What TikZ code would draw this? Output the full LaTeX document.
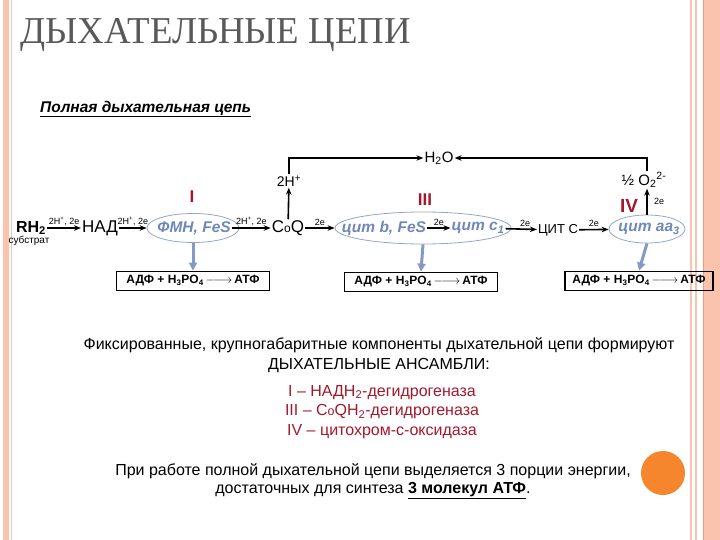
\documentclass[tikz,border=0pt]{standalone}
\usepackage{fontspec}
\setmainfont{Liberation Sans}
\newfontfamily\titlefont{Liberation Serif}
\usetikzlibrary{arrows.meta,shapes.geometric,positioning}

\definecolor{framesalmon}{HTML}{F9C3AD}
\definecolor{frameline}{HTML}{F29A7C}
\definecolor{enzred}{HTML}{A3182B}
\definecolor{cytblue}{HTML}{6F87B9}
\definecolor{ellline}{HTML}{93A6CA}
\definecolor{titlegray}{HTML}{595959}
\definecolor{dotorange}{HTML}{F5862E}

\newcommand{\fsz}[1]{\fontsize{#1}{#1}\selectfont}
\newcommand{\longarr}{$\relbar\joinrel\longrightarrow$}

\tikzset{
  flow/.style={-{Stealth[length=7pt,width=5.5pt]},line width=1.6pt},
  carrier/.style={font=\fsz{17},inner sep=1pt},
  lbl/.style={font=\fsz{9},inner sep=1pt,above=1pt},
  complexno/.style={font=\bfseries\fsz{17},text=enzred,inner sep=1pt},
  enzyme/.style={ellipse,draw=ellline,line width=0.8pt,inner sep=0pt},
  cyt/.style={font=\bfseries\itshape\fsz{15.5},text=cytblue,inner sep=1pt},
  downflow/.style={-{Triangle[length=8pt,width=8pt]},line width=3pt,cytblue!85},
  atpbox/.style={draw,line width=1.8pt,minimum width=153pt,minimum height=19pt,inner sep=0pt,font=\bfseries\fsz{12}},
  bodytext/.style={font=\fsz{16},align=center,inner sep=0pt}
}

\begin{document}
\begin{tikzpicture}[x=1pt,y=-1pt]
\useasboundingbox (0,0) rectangle (720,540);
% slide frame
\fill[framesalmon] (3,0) rectangle (9,540);
\draw[framesalmon,line width=1pt] (11.5,0) -- (11.5,540);
\draw[framesalmon,line width=1.5pt] (691,0) -- (691,540);
\draw[framesalmon,line width=1.5pt] (696,0) -- (696,540);
\fill[framesalmon] (703,0) rectangle (720,540);
\draw[frameline,line width=1pt] (703,0) -- (703,540);

\node[anchor=west,text=titlegray,font=\titlefont\fsz{38},inner sep=0pt,xscale=0.97] (title) at (20,35) {ДЫХАТЕЛЬНЫЕ ЦЕПИ};
\node[anchor=west,font=\bfseries\itshape\fsz{15.5},inner sep=0pt] (subtitle) at (40,109) {\underline{Полная дыхательная цепь}};

% carriers
\node[carrier,font=\bfseries\fsz{16}] (rh) at (31,228) {RH\textsubscript{2}};
\node[font=\fsz{10},inner sep=0pt] (substr) at (29,241) {субстрат};
\node[carrier] (nad) at (100,228) {НАД};
\node[enzyme,minimum width=92pt,minimum height=29pt] (fmn) at (193,228) {};
\node[cyt] (fmntext) at (194,228) {ФМН, FeS};
\node[complexno] (cI) at (192,197) {I};
\node[carrier] (coq) at (288,228) {C{\fsz{12}o}Q};
\node[font=\fsz{14},inner sep=1pt] (hplus) at (289,181) {2H\textsuperscript{+}};
\node[font=\fsz{15},inner sep=1pt] (h2o) at (439,158) {H\textsubscript{2}O};
\node[enzyme,minimum width=176pt,minimum height=32pt] (cIII) at (423,228) {};
\node[cyt] (cytb) at (384,228) {цит b, FeS};
\node[cyt] (cytc1) at (478,228) {цит c\textsubscript{1}};
\node[complexno] (cIIIno) at (425,200) {III};
\node[font=\fsz{13},inner sep=1pt] (cytc) at (558,230) {ЦИТ С};
\node[enzyme,minimum width=76pt,minimum height=28pt] (aa3) at (647,229) {};
\node[cyt] (aa3text) at (649,229) {цит аа\textsubscript{3}};
\node[complexno,font=\bfseries\fsz{19}] (cIVno) at (629,206) {IV};
\node[font=\fsz{15},inner sep=1pt] (o2) at (644,180) {½ O\textsubscript{2}\textsuperscript{2-}};

% electron transport
\draw[flow] (rh) -- node[lbl]{2H\textsuperscript{+}, 2e} (nad);
\draw[flow] (nad) -- node[lbl]{2H\textsuperscript{+}, 2e} (fmn);
\draw[flow] (fmntext) -- node[lbl]{2H\textsuperscript{+}, 2e} (coq);
\draw[flow] (coq) -- node[lbl]{2e} (cIII);
\draw[flow] (cytb) -- node[lbl]{2e} (cytc1);
\draw[flow] (cytc1) -- node[lbl,xshift=4pt]{2e} (cytc);
\draw[flow] (cytc) -- node[lbl]{2e} (aa3);
\draw[flow] (coq) -- (hplus);
\draw[flow] (hplus) |- (h2o);
\draw[flow] (aa3.north) -- node[right=3pt,font=\fsz{9}]{2e} (aa3.north |- o2.south);
\draw[flow] (aa3.north |- o2.north) |- (h2o);

% phosphorylation
\node[atpbox] (atp1) at (193,281) {АДФ + H\textsubscript{3}PO\textsubscript{4}\,\longarr\,АТФ};
\node[atpbox] (atp2) at (421,282) {АДФ + H\textsubscript{3}PO\textsubscript{4}\,\longarr\,АТФ};
\node[atpbox,minimum width=148pt] (atp3) at (639,281) {АДФ + H\textsubscript{3}PO\textsubscript{4}\,\longarr\,АТФ};
\draw[downflow] (fmn.south) -- (atp1.north);
\draw[downflow] (cIII.south) -- (atp2.north);
\draw[downflow] (aa3.south) -- (atp3.north);

% text
\node[bodytext] (fixed) at (379,345) {Фиксированные, крупногабаритные компоненты дыхательной цепи формируют};
\node[bodytext] (ensembles) at (379,366) {ДЫХАТЕЛЬНЫЕ АНСАМБЛИ:};
\node[bodytext,text=enzred] (list) at (382,412) {I -- НАДН\textsubscript{2}-дегидрогеназа\\[3.5pt] III -- C{\fsz{12.5}o}QH\textsubscript{2}-дегидрогеназа\\[3.5pt] IV -- цитохром-с-оксидаза};
\node[bodytext] (energy) at (373,481) {При работе полной дыхательной цепи выделяется 3 порции энергии,\\[2pt] достаточных для синтеза \textbf{\underline{3 молекул АТФ}}.};
\fill[dotorange] (663,473) circle (22);
\end{tikzpicture}
\end{document}
